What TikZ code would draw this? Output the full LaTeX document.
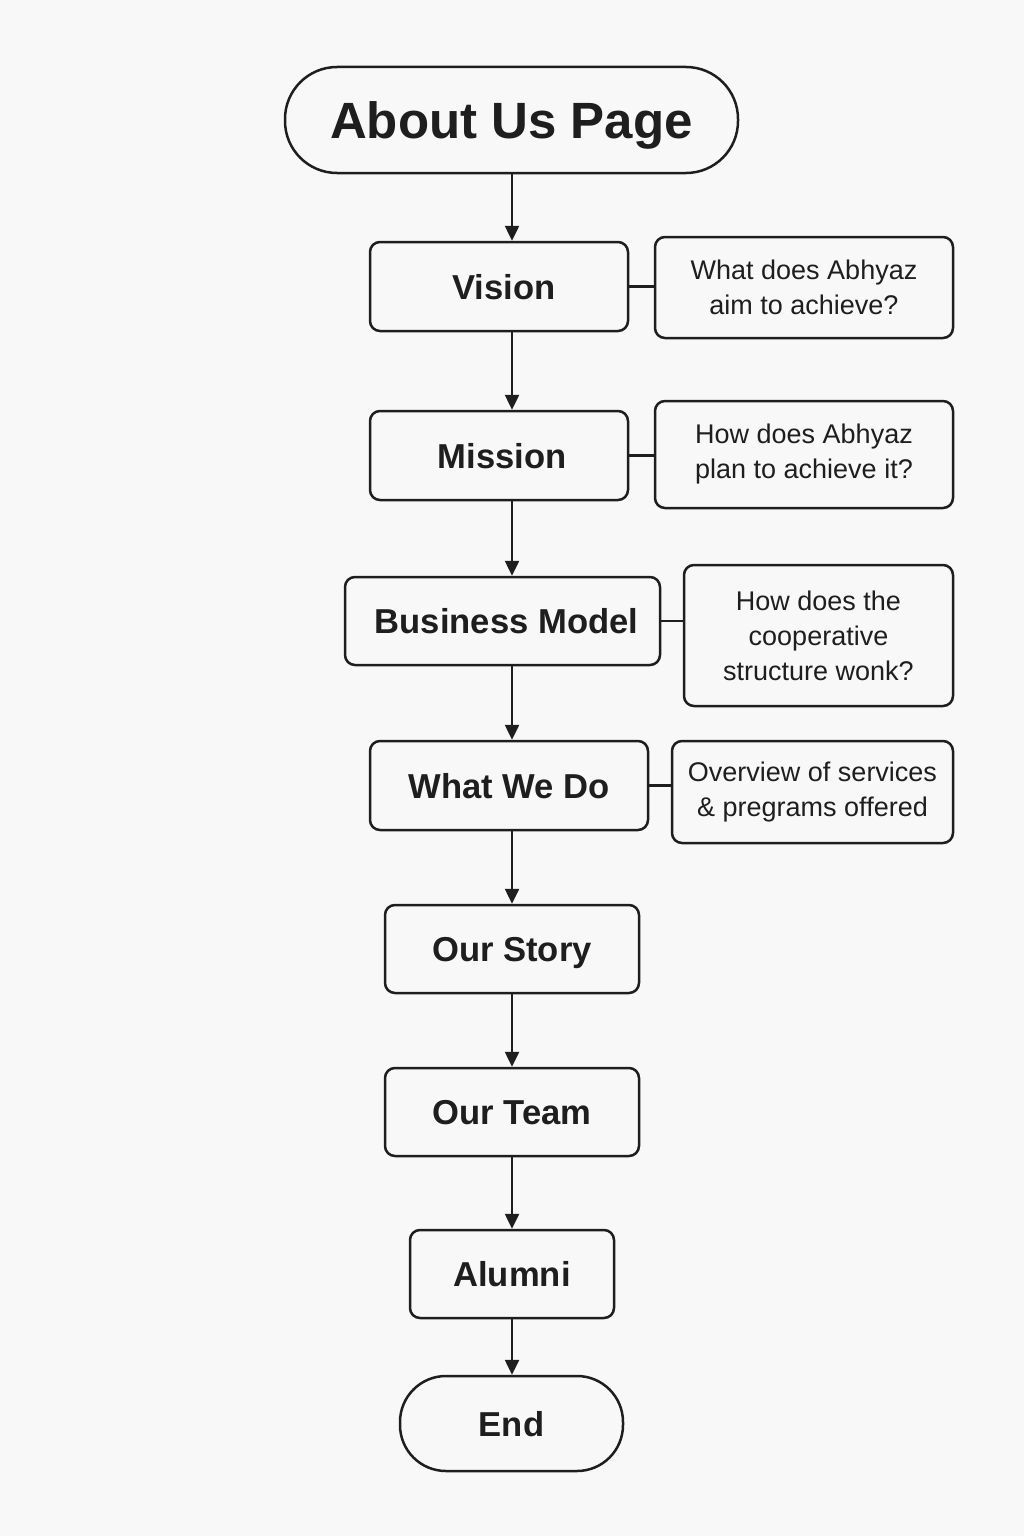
\documentclass[tikz,border=0pt]{standalone}
\usepackage{fontspec}
\setmainfont{Liberation Sans}
\usepackage{tikz}
\usetikzlibrary{arrows.meta}
\definecolor{paper}{HTML}{F8F8F8}
\definecolor{ink}{HTML}{1E1E1E}
\tikzstyle{arrow} = [line width=1.25pt,draw=ink,-{Triangle[length=7.5pt,width=7pt]}]
\tikzstyle{link} = [line width=1.2pt,draw=ink]
\tikzset{
 term/.style
  = {rectangle, draw=ink, line width=1.25pt, fill=paper, inner sep=0pt,
     rounded corners=26pt, text=ink, text depth=0pt,
     font=\bfseries\fontsize{17.3}{20}\selectfont},
 mainbox/.style
  = {rectangle, draw=ink, line width=1.25pt, fill=paper, inner sep=0pt,
     rounded corners=5pt, minimum height=44.5pt, text=ink, text depth=0pt,
     font=\bfseries\fontsize{17.3}{20}\selectfont},
 notebox/.style
  = {rectangle, draw=ink, line width=1.25pt, fill=paper, inner sep=0pt,
     rounded corners=5pt, align=center, text=ink,
     font=\fontsize{13.5}{17.5}\selectfont},
}
\begin{document}
\begin{tikzpicture}[x=0.5pt,y=-0.5pt]

% Page
\fill[paper] (0,0) rectangle (1024,1536);
\coordinate (spine) at (512,0);

% Start
\node[term,minimum width=226.5pt,minimum height=53pt,
      font=\bfseries\fontsize{25.5}{30}\selectfont] (start) at (511.5,120) {About Us Page};

% Main sections
\node[mainbox,minimum width=129pt] (vision) at (499,286.5) {\hspace*{5pt}Vision};
\node[mainbox,minimum width=129pt] (mission) at (499,455.5) {\hspace*{3pt}Mission};
\node[mainbox,minimum width=157.5pt,minimum height=44pt] (bizmodel) at (502.5,621) {\hspace*{4pt}Business Model};
\node[mainbox,minimum width=139pt] (whatwedo) at (509,785.5) {What We Do};
\node[mainbox,minimum width=127pt,minimum height=44pt] (story) at (512,949) {Our Story};
\node[mainbox,minimum width=127pt,minimum height=44pt] (team) at (512,1112) {Our Team};
\node[mainbox,minimum width=102pt,minimum height=44pt] (alumni) at (512,1274) {Alumni};

% End
\node[term,rounded corners=23pt,minimum width=111.5pt,minimum height=47.5pt] (theend) at (511.5,1423.5) {End};

% Side notes
\node[notebox,minimum width=149pt,minimum height=50.5pt] (visionnote) at (804,287.5)
  {What does Abhyaz\\aim to achieve?};
\node[notebox,minimum width=149pt,minimum height=53.5pt] (missionnote) at (804,454.5)
  {How does Abhyaz\\plan to achieve it?};
\node[notebox,minimum width=134.5pt,minimum height=70.5pt] (biznote) at (818.5,635.5)
  {How does the\\cooperative\\structure wonk?};
\node[notebox,minimum width=140.5pt,minimum height=51pt] (whatnote) at (812.5,792)
  {Overview of services\\\& pregrams offered};

% Flow
\draw[arrow] (start.south -| spine) -- (vision.north -| spine);
\draw[arrow] (vision.south -| spine) -- (mission.north -| spine);
\draw[arrow] (mission.south -| spine) -- (bizmodel.north -| spine);
\draw[arrow] (bizmodel.south -| spine) -- (whatwedo.north -| spine);
\draw[arrow] (whatwedo.south -| spine) -- (story.north -| spine);
\draw[arrow] (story.south -| spine) -- (team.north -| spine);
\draw[arrow] (team.south -| spine) -- (alumni.north -| spine);
\draw[arrow] (alumni.south -| spine) -- (theend.north -| spine);

% Note links
\draw[link] (vision.east) -- (vision.east -| visionnote.west);
\draw[link] (mission.east) -- (mission.east -| missionnote.west);
\draw[link] (bizmodel.east) -- (bizmodel.east -| biznote.west);
\draw[link] (whatwedo.east) -- (whatwedo.east -| whatnote.west);

\end{tikzpicture}
\end{document}
